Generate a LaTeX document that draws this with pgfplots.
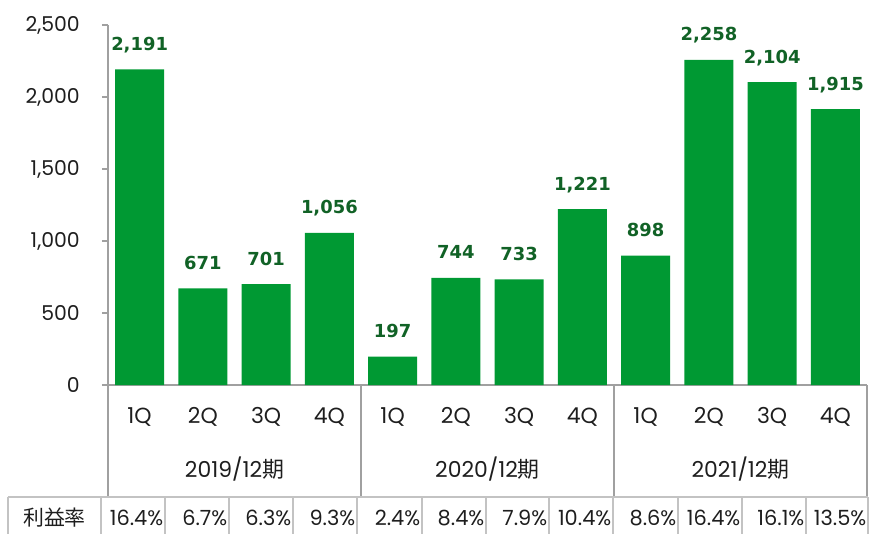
\documentclass[border=0pt]{standalone}
\usepackage{pgfplots}
\pgfplotsset{compat=1.18}
\usepackage{fontspec}
\setmainfont{Poppins}
\newfontfamily\cjk{Noto Sans CJK JP}
\newfontfamily\lblfont{DejaVu Sans}
\definecolor{bargreen}{RGB}{0,153,51}
\definecolor{lblgreen}{RGB}{17,98,38}
\definecolor{axgray}{RGB}{160,160,160}
\definecolor{tblgray}{RGB}{195,195,195}
\definecolor{txt}{RGB}{30,30,30}
\tikzset{lab/.style={font=\fontsize{22}{26}\selectfont, text=txt, anchor=base, inner sep=0pt},
  pct/.style={font=\fontsize{21}{25}\selectfont, text=txt, anchor=base east, inner sep=0pt, xshift=-1.5bp}}
\begin{document}
\begin{tikzpicture}
\begin{axis}[
  width=759bp, height=360bp, scale only axis,
  xmin=-0.5, xmax=11.5, ymin=0, ymax=2500,
  clip=false,
  axis lines*=left,
  axis line style={axgray, line width=1.6bp},
  xtick=\empty,
  ytick={0,500,1000,1500,2000,2500},
  tick align=outside,
  major tick length=6bp,
  y tick style={axgray, line width=1.6bp},
  /pgf/number format/assume math mode=true,
  /pgf/number format/1000 sep={,},
  yticklabel style={font=\fontsize{20.5}{24}\selectfont, text=txt, inner sep=0pt, xshift=-22bp},
  ybar, bar width=49bp,
  nodes near coords,
  nodes near coords style={font=\lblfont\bfseries\fontsize{18}{21}\selectfont, text=lblgreen,
    anchor=base, inner sep=0pt, yshift=19bp,
    /pgf/number format/1000 sep={,}, /pgf/number format/assume math mode=true},
]
\addplot[fill=bargreen, draw=none] coordinates {
 (0,2191) (1,671) (2,701) (3,1056)
 (4,197) (5,744) (6,733) (7,1221)
 (8,898) (9,2258) (10,2104) (11,1915)};

% quarter and group labels
\node[lab] at (axis cs:0,-264) {1Q};
\node[lab] at (axis cs:1,-264) {2Q};
\node[lab] at (axis cs:2,-264) {3Q};
\node[lab] at (axis cs:3,-264) {4Q};
\node[lab] at (axis cs:4,-264) {1Q};
\node[lab] at (axis cs:5,-264) {2Q};
\node[lab] at (axis cs:6,-264) {3Q};
\node[lab] at (axis cs:7,-264) {4Q};
\node[lab] at (axis cs:8,-264) {1Q};
\node[lab] at (axis cs:9,-264) {2Q};
\node[lab] at (axis cs:10,-264) {3Q};
\node[lab] at (axis cs:11,-264) {4Q};
\node[lab] at (axis cs:1.5,-639) {2019/12{\cjk 期}};
\node[lab] at (axis cs:5.5,-639) {2020/12{\cjk 期}};
\node[lab] at (axis cs:9.5,-639) {2021/12{\cjk 期}};
% group separators
\pgfplotsinvokeforeach{-0.5,3.5,7.5,11.5}{
  \draw[axgray, line width=1.6bp] (axis cs:#1,0) -- (axis cs:#1,-770);
}
% table
\draw[tblgray, line width=1.6bp] (axis cs:-2.081,-778) -- (axis cs:11.516,-778);
\pgfplotsinvokeforeach{-2.081,-0.611,0.401,1.413,2.425,3.437,4.464,5.476,6.472,7.484,8.512,9.524,10.536,11.516}{
  \draw[tblgray, line width=1.6bp] (axis cs:#1,-778) -- (axis cs:#1,-1045);
}
\node[font=\cjk\fontsize{21}{25}\selectfont, text=txt, anchor=base, inner sep=0pt] at (axis cs:-1.346,-978) {利益率};
\node[pct] at (axis cs:0.401,-978) {16.4\%};
\node[pct] at (axis cs:1.413,-978) {6.7\%};
\node[pct] at (axis cs:2.425,-978) {6.3\%};
\node[pct] at (axis cs:3.437,-978) {9.3\%};
\node[pct] at (axis cs:4.464,-978) {2.4\%};
\node[pct] at (axis cs:5.476,-978) {8.4\%};
\node[pct] at (axis cs:6.472,-978) {7.9\%};
\node[pct] at (axis cs:7.484,-978) {10.4\%};
\node[pct] at (axis cs:8.512,-978) {8.6\%};
\node[pct] at (axis cs:9.524,-978) {16.4\%};
\node[pct] at (axis cs:10.536,-978) {16.1\%};
\node[pct] at (axis cs:11.516,-978) {13.5\%};

\coordinate (bbl) at (axis cs:-2.2075,-1034.7);
\coordinate (btr) at (axis cs:11.658,2673.6);
\end{axis}
\pgfresetboundingbox
\useasboundingbox (bbl) rectangle (btr);
\end{tikzpicture}
\end{document}
